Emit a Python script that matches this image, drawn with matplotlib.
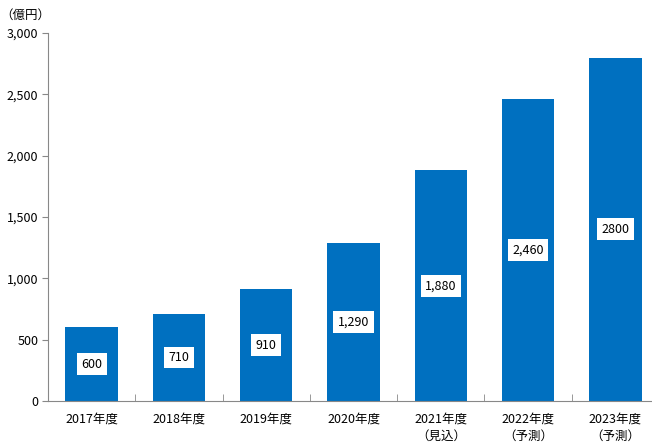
import matplotlib
matplotlib.use("Agg")
import matplotlib.pyplot as plt
import numpy as np

plt.rcParams['font.family'] = ['Noto Sans CJK JP', 'DejaVu Sans']

CATEGORIES = ["2017年度", "2018年度", "2019年度", "2020年度",
              "2021年度\n（見込）", "2022年度\n（予測）", "2023年度\n（予測）"]
VALUES = [600, 710, 910, 1290, 1880, 2460, 2800]
BAR_LABELS = ["600", "710", "910", "1,290", "1,880", "2,460", "2800"]
Y_TICKS = [0, 500, 1000, 1500, 2000, 2500, 3000]

fig = plt.figure(figsize=(6.52, 4.46), dpi=100)
# axes run a little past the right edge, like the cropped original
ax = fig.add_axes([48 / 652, 45 / 446, 611 / 652, 368 / 446])

x = np.arange(len(VALUES))
ax.bar(x, VALUES, width=0.6, color="#0070C0")

for xi, v, lab in zip(x, VALUES, BAR_LABELS):
    ax.text(xi, v / 2, lab, ha="center", va="center", fontsize=9,
            bbox=dict(boxstyle="square,pad=0.35", fc="white", ec="none"))

ax.set_xlim(-0.5, len(VALUES) - 0.5)
ax.set_ylim(0, 3000)
ax.set_yticks(Y_TICKS)
ax.set_yticklabels([f"{t:,}" for t in Y_TICKS], fontsize=9)

ax.set_xticks(x)
ax.set_xticklabels(CATEGORIES, fontsize=9, linespacing=1.5, va="top")
ax.tick_params(axis="x", length=0, pad=8)
ax.set_xticks(np.arange(len(VALUES) + 1) - 0.5, minor=True)
ax.tick_params(axis="x", which="minor", direction="in", length=5, color="#888888")
ax.tick_params(axis="y", direction="out", length=4, color="#888888", pad=3)

for side in ["top", "right"]:
    ax.spines[side].set_visible(False)
for side in ["left", "bottom"]:
    ax.spines[side].set_color("#888888")

fig.text(0, 1 - 15 / 446, "（億円）", fontsize=9, va="center", ha="left")

fig.savefig("out.png", dpi=100)
